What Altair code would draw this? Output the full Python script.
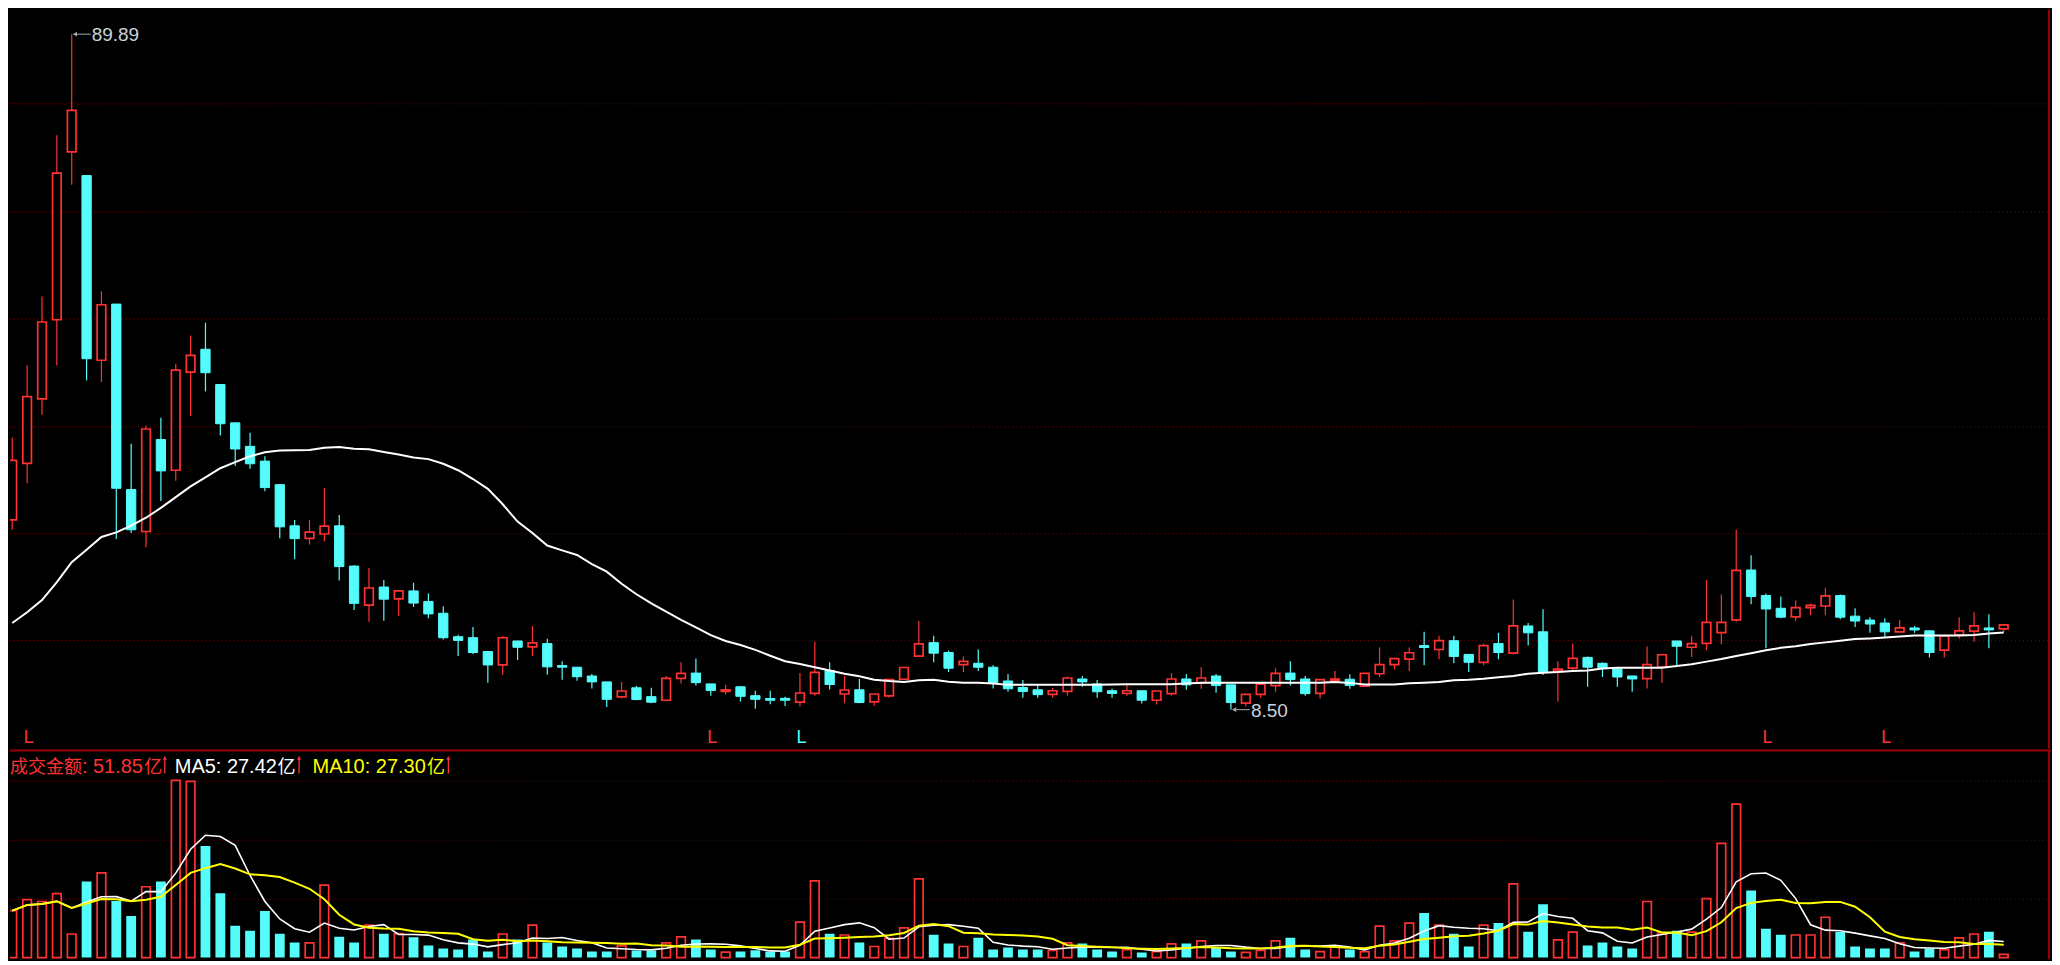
import altair as alt
import pandas as pd

# ---------------- data ----------------
opens = [31.36, 38.18, 45.94, 55.48, 75.70, 72.86, 50.60, 57.37, 35.02, 29.97,
         41.05, 37.35, 49.18, 51.93, 47.68, 43.06, 40.23, 38.45, 35.61, 30.65,
         29.15, 29.67, 30.65, 25.80, 21.11, 23.28, 21.84, 22.81, 21.54, 20.12,
         17.29, 17.17, 15.51, 13.89, 16.78, 16.07, 16.46, 13.82, 13.62, 12.56,
         11.85, 10.04, 11.14, 10.07, 9.64, 12.28, 12.91, 11.61, 10.70, 11.26,
         10.19, 9.84, 9.87, 9.40, 10.46, 13.23, 10.39, 10.90, 9.45, 10.16,
         12.17, 14.96, 16.58, 15.39, 13.94, 14.09, 13.62, 11.96, 11.17, 10.90,
         10.34, 10.70, 12.20, 11.61, 10.78, 10.46, 10.78, 9.64, 10.43, 12.20,
         11.69, 12.56, 11.49, 9.28, 10.34, 11.41, 12.91, 12.20, 10.46, 12.00,
         12.17, 11.34, 12.83, 13.94, 14.60, 16.22, 15.75, 16.81, 15.16, 14.21,
         16.46, 15.31, 18.59, 17.88, 13.15, 13.50, 14.80, 14.09, 13.42, 12.56,
         12.24, 13.62, 16.78, 16.02, 16.49, 17.79, 19.33, 25.33, 22.25, 20.72,
         19.69, 20.80, 20.99, 22.25, 19.77, 19.30, 18.94, 17.88, 18.35, 18.00,
         15.67, 17.52, 17.96, 18.35, 18.23]
highs = [41.29, 50.01, 58.28, 77.71, 89.89, 72.86, 58.91, 57.37, 40.55, 42.71,
         43.66, 50.16, 53.59, 55.13, 47.68, 43.06, 41.88, 39.04, 35.61, 31.36,
         31.36, 35.22, 31.95, 25.92, 25.56, 24.14, 22.81, 23.79, 22.49, 20.95,
         17.52, 18.47, 15.51, 17.37, 16.78, 18.59, 17.05, 14.33, 13.62, 12.79,
         11.85, 11.85, 11.37, 11.14, 12.56, 14.21, 14.68, 11.61, 11.49, 11.37,
         10.78, 10.78, 10.07, 12.91, 16.69, 14.21, 12.56, 12.20, 10.39, 12.12,
         13.58, 19.18, 17.40, 15.63, 14.92, 15.75, 13.86, 12.79, 12.08, 11.49,
         11.14, 12.47, 12.56, 12.08, 11.02, 11.49, 10.78, 10.75, 12.91, 12.79,
         13.62, 12.79, 11.49, 10.34, 11.57, 13.50, 14.33, 12.56, 12.12, 13.15,
         12.76, 12.88, 15.99, 14.65, 15.99, 17.88, 17.40, 17.40, 15.16, 16.46,
         17.76, 21.78, 18.94, 20.60, 14.33, 16.46, 14.92, 14.21, 13.42, 12.56,
         16.10, 15.12, 16.78, 17.40, 24.14, 22.37, 30.18, 27.10, 22.49, 22.13,
         21.66, 21.31, 23.20, 22.37, 20.72, 19.65, 19.53, 19.30, 18.59, 18.00,
         17.40, 19.65, 20.24, 20.01, 18.82]
lows = [30.18, 35.77, 44.05, 49.96, 71.76, 48.18, 48.00, 29.08, 29.79, 28.08,
        33.64, 36.09, 43.89, 46.85, 41.53, 37.86, 37.54, 34.82, 29.15, 26.63,
        28.40, 28.79, 24.06, 20.51, 19.10, 19.21, 19.80, 20.87, 19.53, 16.97,
        14.96, 15.19, 11.76, 12.71, 14.48, 14.96, 12.71, 12.12, 12.00, 11.05,
        8.81, 9.87, 9.64, 9.28, 9.48, 11.65, 11.41, 10.19, 10.34, 9.48,
        8.62, 9.16, 8.93, 8.89, 10.19, 10.94, 9.28, 9.28, 8.97, 9.95,
        12.17, 14.84, 14.21, 13.03, 13.03, 13.15, 11.05, 10.66, 9.95, 9.95,
        9.95, 10.19, 11.26, 9.95, 9.95, 10.19, 9.24, 9.13, 10.19, 10.90,
        11.02, 10.55, 8.50, 8.89, 9.95, 10.66, 11.41, 10.19, 9.84, 11.85,
        11.02, 11.26, 12.44, 13.38, 13.15, 13.86, 14.57, 14.09, 13.03, 13.86,
        14.57, 15.16, 16.22, 12.67, 9.48, 13.23, 11.26, 12.44, 11.26, 10.66,
        11.05, 11.73, 13.77, 14.84, 15.67, 16.38, 19.10, 21.19, 15.90, 19.53,
        19.18, 19.89, 19.89, 19.41, 18.47, 17.76, 17.29, 17.76, 17.76, 14.80,
        14.80, 17.05, 16.69, 15.90, 17.88]
closes = [38.54, 46.22, 55.21, 73.14, 80.70, 50.79, 57.29, 35.18, 30.18, 42.32,
          37.27, 49.41, 51.19, 49.10, 42.95, 39.91, 38.13, 35.26, 30.53, 29.11,
          29.90, 30.61, 25.74, 21.31, 23.16, 21.82, 22.81, 21.34, 20.04, 17.17,
          16.85, 15.39, 13.89, 17.17, 16.02, 16.54, 13.66, 13.62, 12.47, 11.85,
          9.75, 10.75, 9.72, 9.40, 12.28, 12.88, 11.76, 10.82, 10.90, 10.11,
          9.75, 9.64, 9.64, 10.51, 12.99, 11.53, 10.87, 9.36, 10.39, 12.12,
          13.58, 16.42, 15.31, 13.50, 14.33, 13.62, 11.76, 11.02, 10.70, 10.31,
          10.78, 12.32, 11.85, 10.66, 10.46, 10.78, 9.64, 10.75, 12.20, 11.49,
          12.32, 11.41, 9.36, 10.34, 11.57, 12.88, 12.12, 10.43, 12.12, 12.20,
          11.41, 12.88, 13.94, 14.65, 15.36, 15.99, 16.81, 14.92, 14.21, 16.22,
          15.39, 18.59, 17.76, 13.03, 13.38, 14.68, 13.62, 13.54, 12.44, 12.20,
          13.94, 15.12, 16.14, 16.46, 19.02, 19.02, 25.29, 22.13, 20.63, 19.65,
          20.80, 21.07, 22.22, 19.65, 19.18, 18.82, 17.88, 18.35, 18.11, 15.39,
          17.40, 18.00, 18.59, 18.11, 18.71]
# turnover (亿)
amounts = [81.1, 100.3, 96.9, 110.5, 40.8, 131.4, 146.2, 97.9, 71.9, 122.4,
           131.4, 306.0, 304.3, 192.6, 111.0, 54.9, 46.4, 80.4, 41.3, 26.0,
           25.5, 125.1, 36.2, 26.0, 56.1, 41.3, 41.3, 35.0, 20.9, 15.8,
           14.1, 31.1, 10.7, 40.8, 31.1, 56.1, 26.0, 19.2, 15.8, 10.7,
           10.7, 20.4, 12.4, 12.4, 25.5, 35.7, 31.1, 14.1, 9.5, 10.7,
           12.9, 10.7, 10.7, 61.2, 132.6, 41.3, 39.1, 26.0, 19.2, 33.3,
           51.5, 136.0, 39.6, 24.3, 19.2, 34.5, 14.1, 17.5, 14.1, 14.1,
           12.4, 25.5, 24.3, 14.1, 10.7, 13.6, 9.0, 10.2, 23.8, 24.3,
           28.9, 17.5, 10.7, 9.0, 12.4, 28.9, 34.5, 14.1, 10.2, 18.0,
           14.1, 10.2, 54.4, 28.9, 59.5, 77.0, 56.1, 41.3, 19.2, 56.1,
           60.0, 127.5, 44.7, 92.3, 30.6, 44.2, 20.9, 26.0, 19.2, 15.8,
           96.9, 42.5, 46.4, 44.2, 102.0, 197.2, 265.2, 116.1, 49.8, 39.6,
           39.1, 39.1, 69.7, 44.2, 19.2, 15.8, 15.8, 25.5, 10.7, 15.8,
           13.6, 34.0, 40.8, 44.7, 5.6]
# long moving average of price
ma_price = [18.94, 20.24, 21.70, 23.87, 26.27, 27.78, 29.31, 29.86, 30.68, 31.63,
            32.81, 34.11, 35.41, 36.48, 37.59, 38.33, 39.04, 39.52, 39.72, 39.75,
            39.79, 40.07, 40.14, 39.95, 39.87, 39.55, 39.24, 38.89, 38.69, 38.13,
            37.35, 36.29, 35.11, 33.25, 31.16, 29.79, 28.28, 27.69, 27.14, 26.04,
            25.13, 23.67, 22.41, 21.31, 20.33, 19.33, 18.43, 17.49, 16.78, 16.30,
            15.71, 15.00, 14.33, 14.01, 13.62, 13.23, 12.83, 12.52, 12.12, 11.96,
            11.85, 12.05, 12.12, 11.88, 11.76, 11.76, 11.65, 11.49, 11.49, 11.49,
            11.49, 11.49, 11.49, 11.49, 11.53, 11.57, 11.57, 11.57, 11.57, 11.65,
            11.76, 11.76, 11.76, 11.76, 11.76, 11.76, 11.76, 11.76, 11.76, 11.85,
            11.73, 11.53, 11.53, 11.53, 11.69, 11.76, 11.85, 12.05, 12.12, 12.24,
            12.40, 12.56, 12.83, 12.95, 13.03, 13.15, 13.23, 13.47, 13.54, 13.54,
            13.54, 13.54, 13.77, 13.97, 14.29, 14.60, 14.96, 15.31, 15.67, 15.95,
            16.14, 16.42, 16.61, 16.81, 17.01, 17.09, 17.20, 17.32, 17.44, 17.44,
            17.44, 17.44, 17.49, 17.68, 17.79]
marker_days = [1, 47, 53, 118, 126]
marker_colors = ["#FF3232", "#FF3232", "#54FCFC", "#FF3232", "#FF3232"]
price_grid = [16.81, 29.70, 42.59, 55.60, 68.49, 81.49]
amount_grid = [100.8, 202.8, 304.8]

# ---------------- styling ----------------
RED = "#FF3232"
CYAN = "#54FCFC"
YELLOW = "#FFFF00"
GRID = "#8A0000"
FRAME = "#9A0000"
LAT = "Liberation Sans"
CJK = "Noto Sans CJK SC"
W, H1, H2 = 2044, 740, 209

n = len(opens)
df = pd.DataFrame({"d": list(range(n)), "o": opens, "h": highs, "l": lows,
                   "c": closes, "amt": amounts, "ma": ma_price})

xs = alt.Scale(domain=[-0.153, 137.18], nice=False, zero=False)
ys = alt.Scale(domain=[3.81, 92.84], nice=False, zero=False)
vs = alt.Scale(domain=[-2.9, 357.5], nice=False, zero=False)

base = alt.Chart(df)
UP = "datum.c >= datum.o"
DOWN = "datum.c < datum.o"


def xq(field):
    return alt.X(field, type="quantitative", scale=xs, axis=None)


def yq(field, sc):
    return alt.Y(field, type="quantitative", scale=sc, axis=None)


one = pd.DataFrame({"k": [0]})

# ---------- price panel ----------
pgrid = alt.Chart(pd.DataFrame({"g": price_grid})).mark_rule(
    color=GRID, strokeWidth=1, strokeDash=[1, 3]).encode(
    y=yq("g", ys), x=alt.value(0), x2=alt.value(W))

wick_up = base.transform_filter(UP).mark_rule(color=RED, strokeWidth=1.2).encode(
    x=xq("d"), y=yq("l", ys), y2="h")
wick_dn = base.transform_filter(DOWN).mark_rule(color=CYAN, strokeWidth=1.2).encode(
    x=xq("d"), y=yq("l", ys), y2="h")

body_up = base.transform_filter(UP).transform_calculate(
    xa="datum.d - 0.29", xb="datum.d + 0.29").mark_rect(
    fill="black", stroke=RED, strokeWidth=1.7, clip=True).encode(
    x=xq("xa"), x2="xb", y=yq("o", ys), y2="c")
body_dn = base.transform_filter(DOWN).transform_calculate(
    xa="datum.d - 0.313", xb="datum.d + 0.313").mark_rect(
    fill=CYAN, stroke=CYAN, strokeWidth=1, clip=True).encode(
    x=xq("xa"), x2="xb", y=yq("o", ys), y2="c")

ma_line = base.mark_line(color="white", strokeWidth=2).encode(
    x=xq("d"), y=yq("ma", ys))

i_hi = highs.index(max(highs))
i_lo = lows.index(min(lows))
ann = pd.DataFrame({"d": [i_hi, i_lo], "p": [highs[i_hi], lows[i_lo]],
                    "label": [f"{highs[i_hi]:.2f}", f"{lows[i_lo]:.2f}"]})
ann_line = alt.Chart(ann).transform_calculate(
    da="datum.d + 0.12", db="datum.d + 1.28").mark_rule(
    color="#A8A8A8", strokeWidth=1).encode(x=xq("da"), x2="db", y=yq("p", ys))
ann_head = alt.Chart(ann).transform_calculate(da="datum.d + 0.22").mark_point(
    shape="triangle-left", filled=True, size=22, color="#A8A8A8", opacity=1).encode(
    x=xq("da"), y=yq("p", ys))
ann_text = alt.Chart(ann).mark_text(
    align="left", baseline="alphabetic", dx=20, dy=7, fontSize=19, font=LAT,
    color="#C8D2DC").encode(x=xq("d"), y=yq("p", ys), text="label:N")

mk = pd.DataFrame({"d": marker_days, "col": marker_colors})
markers = alt.Chart(mk).mark_text(
    text="L", align="left", baseline="alphabetic", dx=-3.5, fontSize=18, font=LAT).encode(
    x=xq("d"), y=alt.value(734), color=alt.Color("col:N", scale=None, legend=None))

right1 = alt.Chart(one).mark_rule(color=FRAME, strokeWidth=2).encode(
    x=alt.value(W - 2), y=alt.value(0), y2=alt.value(H1))

price = alt.layer(pgrid, wick_up, wick_dn, body_up, body_dn, ma_line,
                  ann_line, ann_head, ann_text, markers, right1).properties(
    width=W, height=H1)

# ---------- turnover panel ----------
vgrid = alt.Chart(pd.DataFrame({"g": amount_grid})).mark_rule(
    color=GRID, strokeWidth=1, strokeDash=[1, 3]).encode(
    y=yq("g", vs), x=alt.value(0), x2=alt.value(W))

vbar_up = base.transform_filter(UP).transform_calculate(
    xa="datum.d - 0.29", xb="datum.d + 0.29", z="0").mark_rect(
    fill="black", stroke=RED, strokeWidth=1.7, clip=True).encode(
    x=xq("xa"), x2="xb", y=yq("z", vs), y2="amt")
vbar_dn = base.transform_filter(DOWN).transform_calculate(
    xa="datum.d - 0.33", xb="datum.d + 0.33", z="0").mark_rect(
    fill=CYAN, clip=True).encode(
    x=xq("xa"), x2="xb", y=yq("z", vs), y2="amt")

ma5 = base.transform_window(
    m5="mean(amt)", frame=[-4, 0], sort=[alt.SortField("d")]).mark_line(
    color="white", strokeWidth=1.6).encode(x=xq("d"), y=yq("m5", vs))
ma10 = base.transform_window(
    m10="mean(amt)", frame=[-9, 0], sort=[alt.SortField("d")]).mark_line(
    color=YELLOW, strokeWidth=2).encode(x=xq("d"), y=yq("m10", vs))

sep = alt.Chart(one).mark_rule(color=FRAME, strokeWidth=2).encode(
    x=alt.value(0), x2=alt.value(W), y=alt.value(0))
right2 = alt.Chart(one).mark_rule(color=FRAME, strokeWidth=2).encode(
    x=alt.value(W - 2), y=alt.value(0), y2=alt.value(H2))


def label(txt, x, color, size, font):
    return alt.Chart(pd.DataFrame({"t": [txt]})).mark_text(
        align="left", baseline="alphabetic", fontSize=size, font=font, color=color).encode(
        x=alt.value(x), y=alt.value(22), text="t:N")


def up_arrow(cx):
    shaft = alt.Chart(one).mark_rule(color=RED, strokeWidth=1.3).encode(
        x=alt.value(cx), y=alt.value(6), y2=alt.value(23))
    head = alt.Chart(one).mark_point(
        shape="triangle-up", filled=True, size=16, color=RED, opacity=1).encode(
        x=alt.value(cx), y=alt.value(7.5))
    return [shaft, head]


header = [
    label("成交金额", 0, RED, 18, CJK),
    label(": 51.85", 72, RED, 20, LAT),
    label("亿", 134.5, RED, 18, CJK),
    label("MA5: 27.42", 165, "white", 20, LAT),
    label("亿", 268, "white", 18, CJK),
    label("MA10: 27.30", 303, YELLOW, 20, LAT),
    label("亿", 417.5, YELLOW, 18, CJK),
] + up_arrow(155) + up_arrow(289.5) + up_arrow(439)

volume = alt.layer(vgrid, vbar_up, vbar_dn, ma5, ma10, sep, right2, *header).properties(
    width=W, height=H2)

chart = alt.vconcat(price, volume, spacing=0).properties(padding=0).configure(
    background="black").configure_view(strokeWidth=0)

chart.save("out.html", embed_options={"renderer": "svg", "actions": False})
